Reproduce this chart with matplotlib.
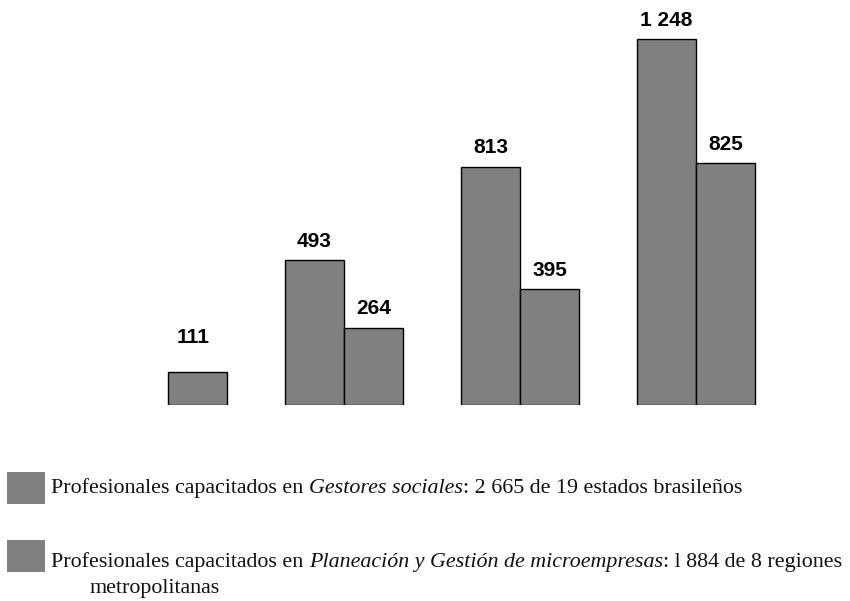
import numpy as np
import matplotlib.pyplot as plt
from matplotlib.patches import Rectangle

# data
groups = [0, 1, 2, 3]
gestores = [np.nan, 493, 813, 1248]
planeacion = [111, 264, 395, 825]
value_labels_a = ["", "493", "813", "1 248"]
value_labels_b = ["111", "264", "395", "825"]

legend_a = [("Profesionales capacitados en ", "normal"),
            ("Gestores sociales", "italic"),
            (": 2 665 de 19 estados brasileños", "normal")]
legend_b = [("Profesionales capacitados en ", "normal"),
            ("Planeación y Gestión de microempresas", "italic"),
            (": l 884 de 8 regiones", "normal")]
legend_b2 = "metropolitanas"

bar_color = "#808080"
W, H = 850, 601

fig = plt.figure(figsize=(W / 100, H / 100), dpi=100)
ax = fig.add_axes([0, (H - 405) / H, 1, 405 / H])
ax.set_xlim(-168 / 176, (W - 168) / 176)
ax.set_ylim(0, 405 / 0.2933)
ax.axis("off")

x = np.array(groups)
w = 59 / 176
ax.bar(x - w / 2, gestores, width=w, color=bar_color, edgecolor="black", linewidth=1)
ax.bar(x + w / 2, planeacion, width=w, color=bar_color, edgecolor="black", linewidth=1)

lab_kw = dict(textcoords="offset points", ha="center", va="baseline",
              fontsize=15, fontweight="bold", family="Liberation Sans")
for xi, v, lab in zip(x, gestores, value_labels_a):
    if lab:
        ax.annotate(lab, (xi - w / 2, v), xytext=(0, 9.5), **lab_kw)
for xi, v, lab in zip(x, planeacion, value_labels_b):
    # the small first bar has its label sitting higher in the original
    dy, dx = (21.5, -3.5) if v < 150 else (9.5, 0)
    ax.annotate(lab, (xi + w / 2, v), xytext=(dx, dy), **lab_kw)

# legend drawn by hand
def legend_line(parts, x0, y0):
    fig.canvas.draw()
    r = fig.canvas.get_renderer()
    xp = x0
    for txt, style in parts:
        t = fig.text(xp / W, 1 - y0 / H, txt, fontsize=15.8, style=style,
                     family="Liberation Serif", va="baseline", ha="left", color="#111111")
        bb = t.get_window_extent(renderer=r)
        xp += bb.width

fig.patches.append(Rectangle((7 / W, 1 - 504 / H), 38 / W, 32 / H, transform=fig.transFigure,
                             facecolor=bar_color, edgecolor="none"))
fig.patches.append(Rectangle((7 / W, 1 - 572 / H), 38 / W, 32 / H, transform=fig.transFigure,
                             facecolor=bar_color, edgecolor="none"))
legend_line(legend_a, 51, 493)
legend_line(legend_b, 51, 567)
fig.text(90 / W, 1 - 593 / H, legend_b2, fontsize=15.8, family="Liberation Serif",
         va="baseline", ha="left", color="#111111")

fig.savefig("out.png", dpi=100)
